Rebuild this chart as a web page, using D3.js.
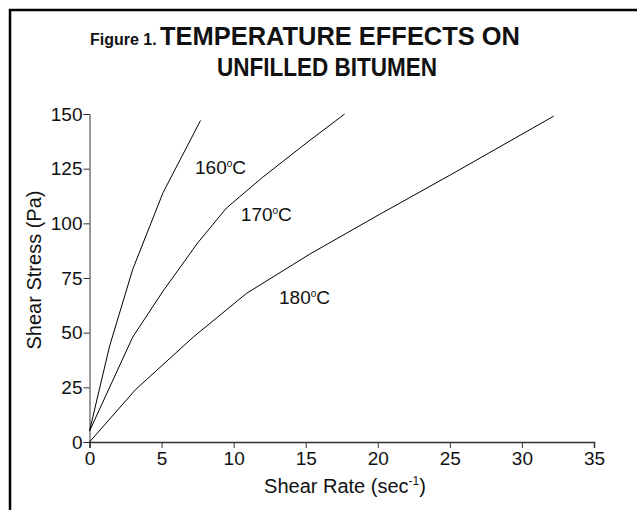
<!DOCTYPE html>
<html>
<head>
<meta charset="utf-8">
<script src="https://cdn.jsdelivr.net/npm/d3@7"></script>
<style>
body{margin:0;background:#fff;}
text{font-family:"Liberation Sans",Arial,sans-serif;fill:#111;}
</style>
</head>
<body>
<script>
// shear rate (sec-1) vs shear stress (Pa)
var rate160=[0,1.4,3.0,5.1,7.7]
var stress160=[5,44,79,114,147]
var rate170=[0,3.0,5.1,7.5,9.5,12,15.1,17.7]
var stress170=[5,48,69,91,107,121,137,150]
var rate180=[0,3.2,7.2,10.9,15.3,20.1,25,32.2]
var stress180=[0,24,48,68,86,104,122,149]
var xTicks=[0,5,10,15,20,25,30,35]
var yTicks=[0,25,50,75,100,125,150]
var labels=["160","170","180"]

var width=637, height=510

var svg=d3.select("body").append("svg")
.attr('width', width)
.attr('height', height)

// frame
svg.append("path")
.attr('d', "M10,510 V10 H637")
.attr('fill', 'none')
.attr('stroke', '#000')
.attr('stroke-width', 2.5)

// title
svg.append("text")
.attr('x', 90)
.attr('y', 45)
.style('font-weight', 'bold')
.style('font-size', '16px')
.text("Figure 1.")

svg.append("text")
.attr('x', 160)
.attr('y', 45)
.style('font-weight', 'bold')
.style('font-size', '25px')
.attr('textLength', 360)
.attr('lengthAdjust', 'spacingAndGlyphs')
.text("TEMPERATURE EFFECTS ON")

svg.append("text")
.attr('x', 217)
.attr('y', 76)
.style('font-weight', 'bold')
.style('font-size', '25px')
.attr('textLength', 220)
.attr('lengthAdjust', 'spacingAndGlyphs')
.text("UNFILLED BITUMEN")

var x=d3.scaleLinear().domain([0,35]).range([89.5,594])
var y=d3.scaleLinear().domain([0,150]).range([442,114])

var xAxis=svg.append("g")
.attr('transform', 'translate(0,'+y(0)+')')
.call(d3.axisBottom(x).tickValues(xTicks).tickSize(6).tickPadding(4))
var yAxis=svg.append("g")
.attr('transform', 'translate('+x(0)+',0)')
.call(d3.axisLeft(y).tickValues(yTicks).tickSize(6).tickPadding(1))

svg.selectAll(".tick text")
.style('font-size', '19px')
.style('font-family', '"Liberation Sans",Arial,sans-serif')
.attr('fill', '#111')
svg.selectAll(".domain, .tick line").attr('stroke', '#333')
xAxis.select(".domain").attr('stroke-width', 1.5)

// curves
var series=[
  {rate:rate160,stress:stress160},
  {rate:rate170,stress:stress170},
  {rate:rate180,stress:stress180}
]
var line=d3.line()
.x(function(d){return x(d[0])})
.y(function(d){return y(d[1])})

series.forEach(function(s){
  var pts=s.rate.map(function(r,i){return [r,s.stress[i]]})
  svg.append("path")
  .attr('d', line(pts))
  .attr('fill', 'none')
  .attr('stroke', '#000')
  .attr('stroke-width', 1)
})

// curve labels
var labelPos=[[7.32,122.6],[10.5,101],[13.15,63]]
labels.forEach(function(l,i){
  var t=svg.append("text")
  .attr('x', x(labelPos[i][0]))
  .attr('y', y(labelPos[i][1]))
  .style('font-size', '19px')
  t.append("tspan").text(l)
  t.append("tspan").text("o").style('font-size', '10px').attr('dy', -7)
  t.append("tspan").text("C").attr('dy', 7)
})

// axis titles
svg.append("text")
.attr('transform', 'translate(41,270) rotate(-90)')
.attr('text-anchor', 'middle')
.style('font-size', '20px')
.text("Shear Stress (Pa)")

var xt=svg.append("text")
.attr('x', 345)
.attr('y', 493)
.attr('text-anchor', 'middle')
.style('font-size', '20px')
xt.append("tspan").text("Shear Rate (sec")
xt.append("tspan").text("-1").style('font-size', '12px').attr('dy', -8)
xt.append("tspan").text(")").attr('dy', 8)
</script>
</body>
</html>
